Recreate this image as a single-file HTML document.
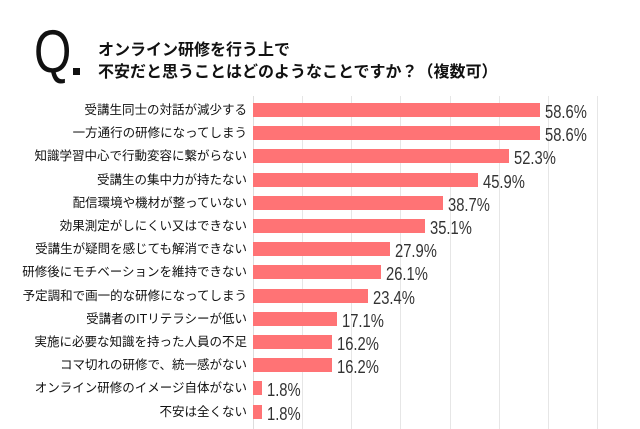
<!DOCTYPE html>
<html><head><meta charset="utf-8"><style>
body{margin:0;width:640px;height:429px;background:#fff;overflow:hidden;position:relative;font-family:"Liberation Sans","Noto Sans CJK JP",sans-serif;}
.q{position:absolute;left:34px;top:22px;font-size:60px;line-height:60px;color:#111;transform:scaleX(0.8);transform-origin:left top;}
.dot{position:absolute;left:73px;top:68px;width:7px;height:7px;background:#111;}
.t{position:absolute;left:98px;font-size:16px;font-weight:bold;color:#111;white-space:nowrap;}
.g{position:absolute;top:96px;height:333px;width:1px;background:#e6e6e6;}
.bar{position:absolute;left:253px;height:14px;background:#ff7375;}
.lab{position:absolute;right:393px;font-size:12.5px;color:#111;white-space:nowrap;line-height:14px;}
.v{position:absolute;font-size:18px;color:#333;line-height:16px;transform:scaleX(0.82);transform-origin:left center;white-space:nowrap;}
</style></head><body>
<div class="q">Q</div><div class="dot"></div>
<div class="t" style="top:36px">オンライン研修を行う上で</div>
<div class="t" style="top:58px">不安だと思うことはどのようなことですか？（複数可）</div>
<div class="g" style="left:253px;background:#ddd"></div>
<div class="g" style="left:302px"></div>
<div class="g" style="left:351px"></div>
<div class="g" style="left:400px"></div>
<div class="g" style="left:450px"></div>
<div class="g" style="left:499px"></div>
<div class="g" style="left:548px"></div>
<div class="g" style="left:597px"></div>
<div id="rows"></div>
<script>
var d=[["受講生同士の対話が減少する",58.6],["一方通行の研修になってしまう",58.6],["知識学習中心で行動変容に繋がらない",52.3],["受講生の集中力が持たない",45.9],["配信環境や機材が整っていない",38.7],["効果測定がしにくい又はできない",35.1],["受講生が疑問を感じても解消できない",27.9],["研修後にモチベーションを維持できない",26.1],["予定調和で画一的な研修になってしまう",23.4],["受講者のITリテラシーが低い",17.1],["実施に必要な知識を持った人員の不足",16.2],["コマ切れの研修で、統一感がない",16.2],["オンライン研修のイメージ自体がない",1.8],["不安は全くない",1.8]];
var h="";
d.forEach(function(r,i){var y=103+i*23.2;var w=r[1]*4.9;
h+='<div class="lab" style="top:'+y+'px">'+r[0]+'</div>';
h+='<div class="bar" style="top:'+y+'px;width:'+w+'px"></div>';
h+='<div class="v" style="top:'+(y+1)+'px;left:'+(253+w+5)+'px">'+r[1].toFixed(1)+'%</div>';});
document.getElementById("rows").innerHTML=h;
</script>
</body></html>
